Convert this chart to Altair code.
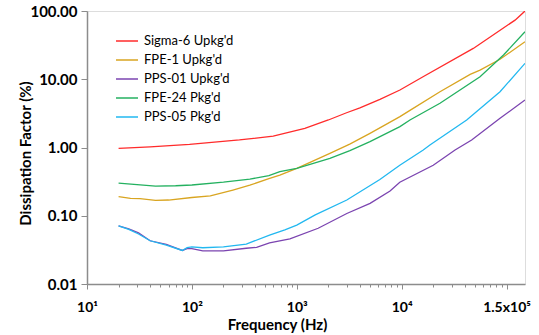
import altair as alt
import pandas as pd

# Series names (legend order) and line colours
SERIES = ["Sigma-6 Upkg'd", "FPE-1 Upkg'd", "PPS-01 Upkg'd", "FPE-24 Pkg'd", "PPS-05 Pkg'd"]
COLORS = ["#FF2B2B", "#D9A521", "#7B44B0", "#24B160", "#22B8F0"]

# Frequency (Hz) and dissipation factor (%) for each sample
sigma6_f = [20, 40, 95, 284, 596, 1194, 2000, 2985, 4000, 6210, 9630, 16000, 48200, 120600, 150000]
sigma6_v = [0.97, 1.02, 1.11, 1.29, 1.47, 1.91, 2.53, 3.23, 3.8, 5.08, 6.95, 10.9, 28.3, 73.5, 100]

fpe1_f = [20, 26, 32, 45, 60, 100, 150, 246, 357, 542, 690, 1000, 2070, 3200, 4990, 9630, 12000, 23200, 45000, 55900, 86700, 150000]
fpe1_v = [0.19, 0.18, 0.178, 0.168, 0.17, 0.185, 0.195, 0.238, 0.28, 0.35, 0.395, 0.496, 0.822, 1.12, 1.61, 2.83, 3.5, 6.57, 11.8, 13.6, 19.6, 35.5]

pps01_f = [20, 25, 31, 40, 57, 81, 90, 100, 127, 200, 330, 414, 550, 860, 1600, 3000, 5000, 7750, 9600, 20000, 32300, 46500, 86700, 150000]
pps01_v = [0.071, 0.064, 0.056, 0.043, 0.038, 0.031, 0.033, 0.033, 0.0305, 0.0305, 0.0334, 0.0345, 0.040, 0.046, 0.0656, 0.108, 0.152, 0.23, 0.31, 0.55, 0.92, 1.29, 2.68, 4.96]

fpe24_f = [20, 30, 45, 70, 100, 200, 357, 542, 690, 1000, 2070, 3210, 4990, 9630, 12000, 23200, 55900, 93600, 150000]
fpe24_v = [0.30, 0.285, 0.272, 0.275, 0.282, 0.31, 0.345, 0.386, 0.442, 0.496, 0.694, 0.9, 1.22, 2.02, 2.53, 4.44, 10.9, 22.7, 49.6]

pps05_f = [20, 25, 31, 40, 57, 81, 90, 100, 127, 200, 330, 550, 770, 1000, 1500, 3000, 6200, 9600, 16070, 18600, 41700, 86700, 150000]
pps05_v = [0.071, 0.063, 0.054, 0.043, 0.037, 0.031, 0.034, 0.035, 0.034, 0.035, 0.0385, 0.052, 0.062, 0.073, 0.103, 0.17, 0.34, 0.55, 0.92, 1.09, 2.53, 6.57, 17.1]

# Axis ticks
X_MAJOR = [10, 100, 1000, 10000, 100000]
X_MINOR = [m * d for d in [10, 100, 1000, 10000] for m in range(2, 10)]
Y_TICKS = [0.01, 0.1, 1, 10, 100]

rows = []
for name, fs, vs in [
    (SERIES[0], sigma6_f, sigma6_v),
    (SERIES[1], fpe1_f, fpe1_v),
    (SERIES[3], fpe24_f, fpe24_v),
    (SERIES[2], pps01_f, pps01_v),
    (SERIES[4], pps05_f, pps05_v),
]:
    for f, v in zip(fs, vs):
        rows.append({"series": name, "freq": f, "df": v})
data = pd.DataFrame(rows)

FONT = "Lato"

x_label_expr = (
    "datum.value == 10 ? '10\u00b9' : datum.value == 100 ? '10\u00b2' : "
    "datum.value == 1000 ? '10\u00b3' : datum.value == 10000 ? '10\u2074' : "
    "datum.value == 100000 ? '1.5x10\u2075' : ''"
)

chart = (
    alt.Chart(data)
    .mark_line(strokeWidth=1.3, clip=True)
    .encode(
        x=alt.X(
            "freq:Q",
            scale=alt.Scale(type="log", domain=[10, 150000], nice=False),
            axis=alt.Axis(
                values=X_MAJOR + X_MINOR,
                labelExpr=x_label_expr,
                tickSize={
                    "condition": {
                        "test": "indexof([10,100,1000,10000,100000], datum.value) >= 0",
                        "value": 5,
                    },
                    "value": 3,
                },
                grid=False,
                labelOverlap=False,
                labelFlush=False,
                domainColor="#8C8C8C",
                domainWidth=1.5,
                tickColor="#8C8C8C",
                tickWidth=1,
                labelFont=FONT,
                labelFontWeight="bold",
                labelFontSize=14,
                labelColor="#000000",
                labelPadding=11,
                title="Frequency (Hz)",
                titleFont=FONT,
                titleFontWeight="bold",
                titleFontSize=15,
                titleColor="#000000",
                titleX=190,
                titleY=45,
                titleAlign="center",
                titleBaseline="alphabetic",
            ),
        ),
        y=alt.Y(
            "df:Q",
            scale=alt.Scale(type="log", domain=[0.01, 100], nice=False),
            axis=alt.Axis(
                values=Y_TICKS,
                format=".2f",
                grid=False,
                domainColor="#8C8C8C",
                domainWidth=1.5,
                tickColor="#8C8C8C",
                tickSize=6,
                labelFont=FONT,
                labelFontWeight="bold",
                labelFontSize=15,
                labelColor="#000000",
                labelPadding=4,
                title="Dissipation Factor (%)",
                titleFont=FONT,
                titleFontWeight="bold",
                titleFontSize=15,
                titleColor="#000000",
                titleX=-62,
                titleY=142,
                titleAngle=-90,
                titleAlign="center",
                titleBaseline="middle",
            ),
        ),
        color=alt.Color(
            "series:N",
            scale=alt.Scale(domain=SERIES, range=COLORS),
            legend=alt.Legend(
                orient="none",
                legendX=28,
                legendY=18,
                title=None,
                padding=0,
                symbolType="stroke",
                symbolSize=484,
                symbolStrokeWidth=1.5,
                rowPadding=0,
                labelOffset=5,
                labelFont=FONT,
                labelFontSize=13,
                labelColor="#000000",
            ),
        ),
        detail="series:N",
    )
    .properties(
        width=438,
        height=273,
        autosize=alt.AutoSizeParams(type="none"),
        padding={"left": 87, "top": 11, "right": 14, "bottom": 51},
    )
    .configure_view(stroke="#333333", strokeWidth=1)
    .configure(background="#FFFFFF")
)

chart.save("out.html", embed_options={"renderer": "svg", "actions": False})
